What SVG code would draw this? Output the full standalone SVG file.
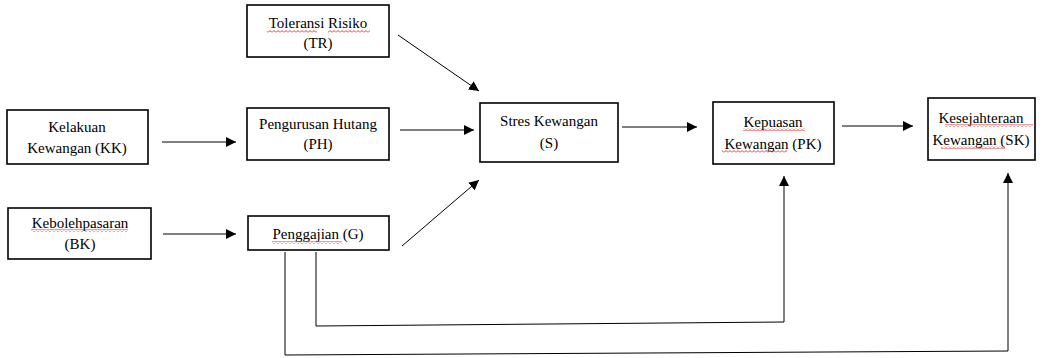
<svg xmlns="http://www.w3.org/2000/svg" width="1044" height="358" viewBox="0 0 1044 358">
<style>
.box{fill:#fff;stroke:#000;stroke-width:1.6}
.lbl{font-family:"Liberation Serif","Times New Roman",serif;font-size:15px;fill:#000;text-anchor:middle}
.con{fill:none;stroke:#000;stroke-width:1}
.wv{fill:url(#wave)}
</style>
<defs>
<marker id="ah" viewBox="0 0 10 10" refX="10" refY="5" markerWidth="10" markerHeight="10" markerUnits="userSpaceOnUse" orient="auto">
<path d="M0,0 L10,5 L0,10 Z" fill="#000"/>
</marker>
<pattern id="wave" width="4" height="3" patternUnits="userSpaceOnUse">
<path d="M0,2.5 L2,0.5 L4,2.5" stroke="#e02020" stroke-width="0.9" fill="none"/>
</pattern>
</defs>
<rect width="1044" height="358" fill="#fff"/>
<g id="TR">
<rect class="box" x="247" y="5" width="142" height="52"/>
<text class="lbl" x="318" y="28">Toleransi Risiko</text>
<text class="lbl" x="318" y="48">(TR)</text>
<rect class="wv" x="267" y="30" width="50" height="3"/>
<rect class="wv" x="328" y="30" width="42" height="3"/>
</g>
<g id="KK">
<rect class="box" x="7" y="110" width="141" height="54"/>
<text class="lbl" x="77" y="132">Kelakuan</text>
<text class="lbl" x="77" y="153">Kewangan (KK)</text>
</g>
<g id="PH">
<rect class="box" x="247" y="108" width="142" height="52"/>
<text class="lbl" x="318" y="129">Pengurusan Hutang</text>
<text class="lbl" x="318" y="149">(PH)</text>
</g>
<g id="BK">
<rect class="box" x="8" y="208" width="143" height="51"/>
<text class="lbl" x="80" y="228">Kebolehpasaran</text>
<text class="lbl" x="80" y="249">(BK)</text>
<rect class="wv" x="31" y="229" width="97" height="3"/>
</g>
<g id="G">
<rect class="box" x="248" y="216" width="141" height="34"/>
<text class="lbl" x="318" y="239">Penggajian (G)</text>
<rect class="wv" x="272" y="241" width="70" height="3"/>
</g>
<g id="S">
<rect class="box" x="480" y="103" width="138" height="59"/>
<text class="lbl" x="549" y="126">Stres Kewangan</text>
<text class="lbl" x="549" y="148">(S)</text>
</g>
<g id="PK">
<rect class="box" x="713" y="102" width="121" height="62"/>
<text class="lbl" x="773" y="127">Kepuasan</text>
<text class="lbl" x="773" y="149">Kewangan (PK)</text>
<rect class="wv" x="743" y="128" width="62" height="3"/>
<rect class="wv" x="722" y="150" width="65" height="3"/>
</g>
<g id="SK">
<rect class="box" x="928" y="98" width="107" height="62"/>
<text class="lbl" x="981" y="123">Kesejahteraan</text>
<text class="lbl" x="981" y="145">Kewangan (SK)</text>
<rect class="wv" x="945" y="124" width="88" height="3"/>
<rect class="wv" x="941" y="146" width="64" height="3"/>
</g>
<g id="connectors">
<line class="con" x1="162" y1="142" x2="236" y2="142" marker-end="url(#ah)"/>
<line class="con" x1="163" y1="234" x2="236" y2="234" marker-end="url(#ah)"/>
<line class="con" x1="400" y1="130" x2="474" y2="130" marker-end="url(#ah)"/>
<line class="con" x1="398" y1="35" x2="479" y2="91" marker-end="url(#ah)"/>
<line class="con" x1="402" y1="246" x2="479" y2="180" marker-end="url(#ah)"/>
<line class="con" x1="622" y1="127" x2="697" y2="127" marker-end="url(#ah)"/>
<line class="con" x1="842" y1="126" x2="913" y2="126" marker-end="url(#ah)"/>
<polyline class="con" points="316,252 316,326 784,322 784,176" marker-end="url(#ah)"/>
<polyline class="con" points="285,252 285,355 1008,351 1008,173" marker-end="url(#ah)"/>
</g>
</svg>
